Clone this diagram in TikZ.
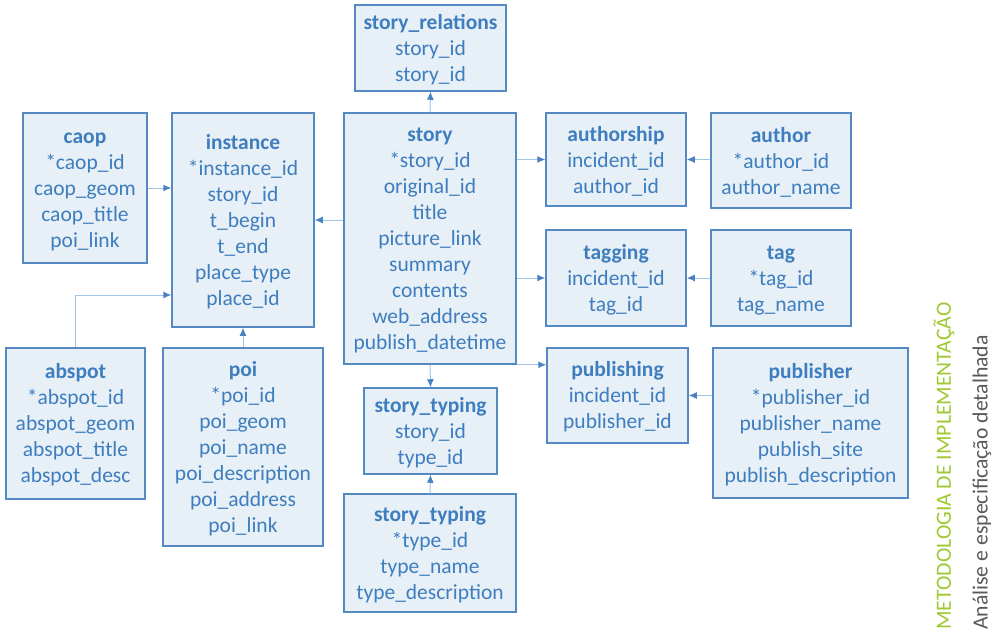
\documentclass[tikz,border=0pt]{standalone}
\usepackage{fontspec}
\setmainfont{Carlito}
\usetikzlibrary{arrows.meta}
\definecolor{boxfill}{RGB}{231,239,247}
\definecolor{boxline}{RGB}{84,137,196}
\definecolor{boxtext}{RGB}{62,126,190}
\definecolor{connline}{RGB}{160,196,230}
\definecolor{tipc}{RGB}{72,130,192}
\definecolor{greentxt}{RGB}{160,200,50}
\definecolor{greytxt}{RGB}{89,89,89}
\newcommand{\ttl}[1]{\rule{0pt}{18pt}\textbf{#1}}
\tikzset{
  entity/.style={draw=boxline, fill=boxfill, line width=1.5pt, inner sep=0pt,
    align=center, text=boxtext, font=\fontsize{21.5}{26}\selectfont},
  conn/.style={draw=connline, line width=1pt,
    -{Latex[length=8pt,width=7pt,color=tipc]}},
  sidetext/.style={rotate=90, anchor=west, inner sep=0pt, font=\fontsize{21.7}{25}\selectfont}
}
\begin{document}
\begin{tikzpicture}[x=1pt,y=-1pt]
\useasboundingbox (0,0) rectangle (1007,633);

\node[entity, minimum width=151pt, minimum height=86pt] (rel) at (430.5,48) {\ttl{story\_relations}\\story\_id\\story\_id};
\node[entity, minimum width=172pt, minimum height=251pt] (story) at (430,238.5) {\ttl{story}\\*story\_id\\original\_id\\title\\picture\_link\\summary\\contents\\web\_address\\publish\_datetime};
\node[entity, minimum width=142pt, minimum height=214pt] (instance) at (243,220) {\ttl{instance}\\*instance\_id\\story\_id\\t\_begin\\t\_end\\place\_type\\place\_id};
\node[entity, minimum width=124pt, minimum height=150pt] (caop) at (85,188) {\ttl{caop}\\*caop\_id\\caop\_geom\\caop\_title\\poi\_link};
\node[entity, minimum width=139pt, minimum height=151pt] (abspot) at (75.5,423.5) {\ttl{abspot}\\*abspot\_id\\abspot\_geom\\abspot\_title\\abspot\_desc};
\node[entity, minimum width=160pt, minimum height=198pt] (poi) at (243,447) {\ttl{poi}\\*poi\_id\\poi\_geom\\poi\_name\\poi\_description\\poi\_address\\poi\_link};
\node[entity, minimum width=133pt, minimum height=86pt] (sts) at (430.5,431) {\ttl{story\_typing}\\story\_id\\type\_id};
\node[entity, minimum width=172pt, minimum height=118pt] (stb) at (430,553) {\ttl{story\_typing}\\*type\_id\\type\_name\\type\_description};
\node[entity, minimum width=140pt, minimum height=93pt] (authorship) at (616,159.5) {\ttl{authorship}\\incident\_id\\author\_id};
\node[entity, minimum width=140pt, minimum height=95pt] (author) at (781,160.5) {\ttl{author}\\*author\_id\\author\_name};
\node[entity, minimum width=140pt, minimum height=96pt] (tagging) at (616,278) {\ttl{tagging}\\incident\_id\\tag\_id};
\node[entity, minimum width=140pt, minimum height=96pt] (tag) at (781,278) {\ttl{tag}\\*tag\_id\\tag\_name};
\node[entity, minimum width=141pt, minimum height=95pt] (publishing) at (617.5,395.5) {\ttl{publishing}\\incident\_id\\publisher\_id};
\node[entity, minimum width=195pt, minimum height=150pt] (publisher) at (810.5,423) {\ttl{publisher}\\*publisher\_id\\publisher\_name\\publish\_site\\publish\_description};

\coordinate (abspotj) at (0,295);

\draw[conn] (story.north) -- (rel.south);
\draw[conn] (story.west |- instance.east) -- (instance.east);
\draw[conn] (caop.east) -- (instance.west |- caop.east);
\draw[conn] (abspot.north) |- (instance.west |- abspotj);
\draw[conn] (poi.north) -- (instance.south);
\draw[conn] (story.east |- authorship.west) -- (authorship.west);
\draw[conn] (story.east |- tagging.west) -- (tagging.west);
\draw[conn] (story.south east) -- (publishing.west |- story.south east);
\draw[conn] (author.west |- authorship.east) -- (authorship.east);
\draw[conn] (tag.west) -- (tagging.east);
\draw[conn] (publisher.west |- publishing.east) -- (publishing.east);
\draw[conn] (story.south) -- (sts.north);
\draw[conn] (stb.north) -- (sts.south);

\node[sidetext, text=greentxt] (meth) at (944,630) {METODOLOGIA DE IMPLEMENTAÇÃO};
\node[sidetext, text=greytxt] (anal) at (982,630) {Análise e especificação detalhada};
\end{tikzpicture}
\end{document}
